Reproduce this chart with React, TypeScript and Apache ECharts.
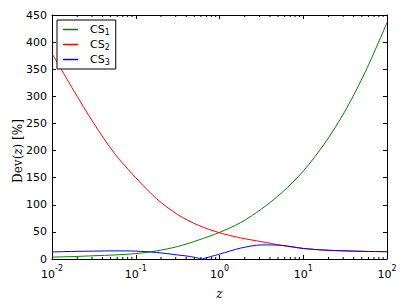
import React, { useEffect, useRef } from 'react';
import * as echarts from 'echarts';

// z sample positions (quarter decades)
const zGrid = [0.01, 0.0178, 0.0316, 0.0562, 0.1, 0.178, 0.316, 0.562, 1, 1.78, 3.16, 5.62, 10, 17.8, 31.6, 56.2, 100];
const cs1Values = [3.5, 4.5, 6, 7.5, 10, 15, 23, 35, 49, 67, 92, 123, 162, 212, 273, 348, 436];
const cs2Values = [379, 313, 250, 194, 150, 111, 82, 62, 48.5, 39, 32, 25, 19.5, 16.5, 15, 14, 13.5];
const cs3LeftZ = [0.01, 0.0178, 0.0316, 0.0562, 0.1, 0.178, 0.316, 0.45, 0.62];
const cs3LeftValues = [13, 14, 14.5, 15, 14.5, 12, 7.5, 4.5, 0];
const cs3RightZ = [0.62, 1, 1.78, 3.16, 5.62, 10, 17.8, 31.6, 56.2, 100];
const cs3RightValues = [0, 9, 20, 26, 25, 19.5, 16.5, 15, 14, 13.5];

const seriesNames = ['CS1', 'CS2', 'CS3'];
const seriesColors = ['#008000', '#ff0000', '#0000ff'];
const minorTickZ = [
  0.02, 0.03, 0.04, 0.05, 0.06, 0.07, 0.08, 0.09,
  0.2, 0.3, 0.4, 0.5, 0.6, 0.7, 0.8, 0.9,
  2, 3, 4, 5, 6, 7, 8, 9,
  20, 30, 40, 50, 60, 70, 80, 90,
];
const xMin = 0.01;
const xMax = 100;
const yMin = 0;
const yMax = 450;
const yInterval = 50;

export default function App() {
  const ref = useRef<HTMLDivElement>(null);
  useEffect(() => {
    if (!ref.current) return;
    const chart = echarts.init(ref.current, null, { renderer: 'svg' });
    const pair = (zs: number[], vs: number[]) => zs.map((z, i) => [z, vs[i]]);
    const lineStyle = (c: string) => ({ color: c, width: 1 });
    const axisLineStyle = { onZero: false, lineStyle: { color: '#000', width: 1 } };
    const tickStyle = { inside: true, length: 4, lineStyle: { color: '#000', width: 1 } };
    const labelFont = 'DejaVu Sans';

    chart.setOption({
      animation: false,
      backgroundColor: '#fff',
      grid: { left: 52, right: 20, top: 15, bottom: 43 },
      legend: {
        data: seriesNames,
        orient: 'vertical',
        left: 57,
        top: 20,
        itemWidth: 15,
        itemHeight: 1.5,
        itemGap: 3,
        icon: 'rect',
        borderColor: '#000',
        borderWidth: 1,
        borderRadius: 0,
        padding: [4, 6, 3, 6],
        backgroundColor: '#fff',
        formatter: (name: string) => `{n|${name.slice(0, 2)}}{s|${name.slice(2)}}`,
        textStyle: {
          padding: [0, 0, 0, 7],
          rich: {
            n: { fontFamily: labelFont, fontSize: 11, color: '#000', lineHeight: 13 },
            s: { fontFamily: labelFont, fontSize: 8, color: '#000', lineHeight: 7, verticalAlign: 'bottom' },
          },
        },
      },
      xAxis: [
        {
          type: 'log',
          logBase: 10,
          min: xMin,
          max: xMax,
          position: 'bottom',
          axisLine: { show: true, ...axisLineStyle },
          axisTick: tickStyle,
          splitLine: { show: false },
          name: 'z',
          nameLocation: 'middle',
          nameGap: 29,
          nameTextStyle: { fontFamily: 'DejaVu Serif', fontStyle: 'italic', fontSize: 12, color: '#000' },
          axisLabel: {
            margin: 5,
            formatter: (v: number) => {
              const e = Math.round(Math.log10(v));
              return `{b|10}{e|${e}}`;
            },
            rich: {
              b: { fontFamily: labelFont, fontSize: 11, color: '#000', lineHeight: 16, verticalAlign: 'bottom' },
              e: { fontFamily: labelFont, fontSize: 8, color: '#000', lineHeight: 8, verticalAlign: 'top' },
            },
          },
        },
        {
          type: 'log',
          logBase: 10,
          min: xMin,
          max: xMax,
          position: 'top',
          axisLine: { show: true, ...axisLineStyle },
          axisTick: tickStyle,
          axisLabel: { show: false },
          splitLine: { show: false },
        },
      ],
      yAxis: [
        {
          type: 'value',
          min: yMin,
          max: yMax,
          interval: yInterval,
          position: 'left',
          axisLine: { show: true, ...axisLineStyle },
          axisTick: tickStyle,
          splitLine: { show: false },
          axisLabel: { fontFamily: labelFont, fontSize: 11, color: '#000', margin: 5 },
        },
        {
          type: 'value',
          min: yMin,
          max: yMax,
          interval: yInterval,
          position: 'right',
          axisLine: { show: true, ...axisLineStyle },
          axisTick: tickStyle,
          axisLabel: { show: false },
          splitLine: { show: false },
        },
      ],
      graphic: [
        {
          type: 'text',
          x: 18,
          y: 151,
          rotation: Math.PI / 2,
          style: {
            text: '{a|Dev(}{i|z}{a|) [%]}',
            align: 'center',
            verticalAlign: 'middle',
            rich: {
              a: { fontFamily: 'DejaVu Serif', fontSize: 12, fill: '#000' },
              i: { fontFamily: 'DejaVu Serif', fontStyle: 'italic', fontSize: 12, fill: '#000' },
            },
          },
        },
      ],
      series: [
        {
          name: seriesNames[0],
          type: 'line',
          data: pair(zGrid, cs1Values),
          smooth: 0.3,
          showSymbol: false,
          color: seriesColors[0],
          lineStyle: lineStyle(seriesColors[0]),
        },
        {
          name: seriesNames[1],
          type: 'line',
          data: pair(zGrid, cs2Values),
          smooth: 0.3,
          showSymbol: false,
          color: seriesColors[1],
          lineStyle: lineStyle(seriesColors[1]),
        },
        {
          name: seriesNames[2],
          type: 'line',
          data: pair(cs3LeftZ, cs3LeftValues),
          smooth: 0.3,
          showSymbol: false,
          color: seriesColors[2],
          lineStyle: lineStyle(seriesColors[2]),
        },
        {
          name: seriesNames[2],
          type: 'line',
          data: pair(cs3RightZ, cs3RightValues),
          smooth: 0.3,
          showSymbol: false,
          color: seriesColors[2],
          lineStyle: lineStyle(seriesColors[2]),
        },
        {
          type: 'custom',
          silent: true,
          clip: false,
          z: 5,
          data: minorTickZ.map((z) => [z, yMin]),
          renderItem: (_p: any, api: any) => {
            const z = api.value(0);
            const b = api.coord([z, yMin]);
            const t = api.coord([z, yMax]);
            const st = { stroke: '#000', lineWidth: 1 };
            return {
              type: 'group',
              children: [
                { type: 'line', shape: { x1: b[0], y1: b[1], x2: b[0], y2: b[1] - 2 }, style: st },
                { type: 'line', shape: { x1: t[0], y1: t[1], x2: t[0], y2: t[1] + 2 }, style: st },
              ],
            };
          },
        },
      ],
    });
    return () => chart.dispose();
  }, []);
  return <div ref={ref} style={{ width: 407, height: 305, position: 'absolute', left: 0, top: 0 }} />;
}
